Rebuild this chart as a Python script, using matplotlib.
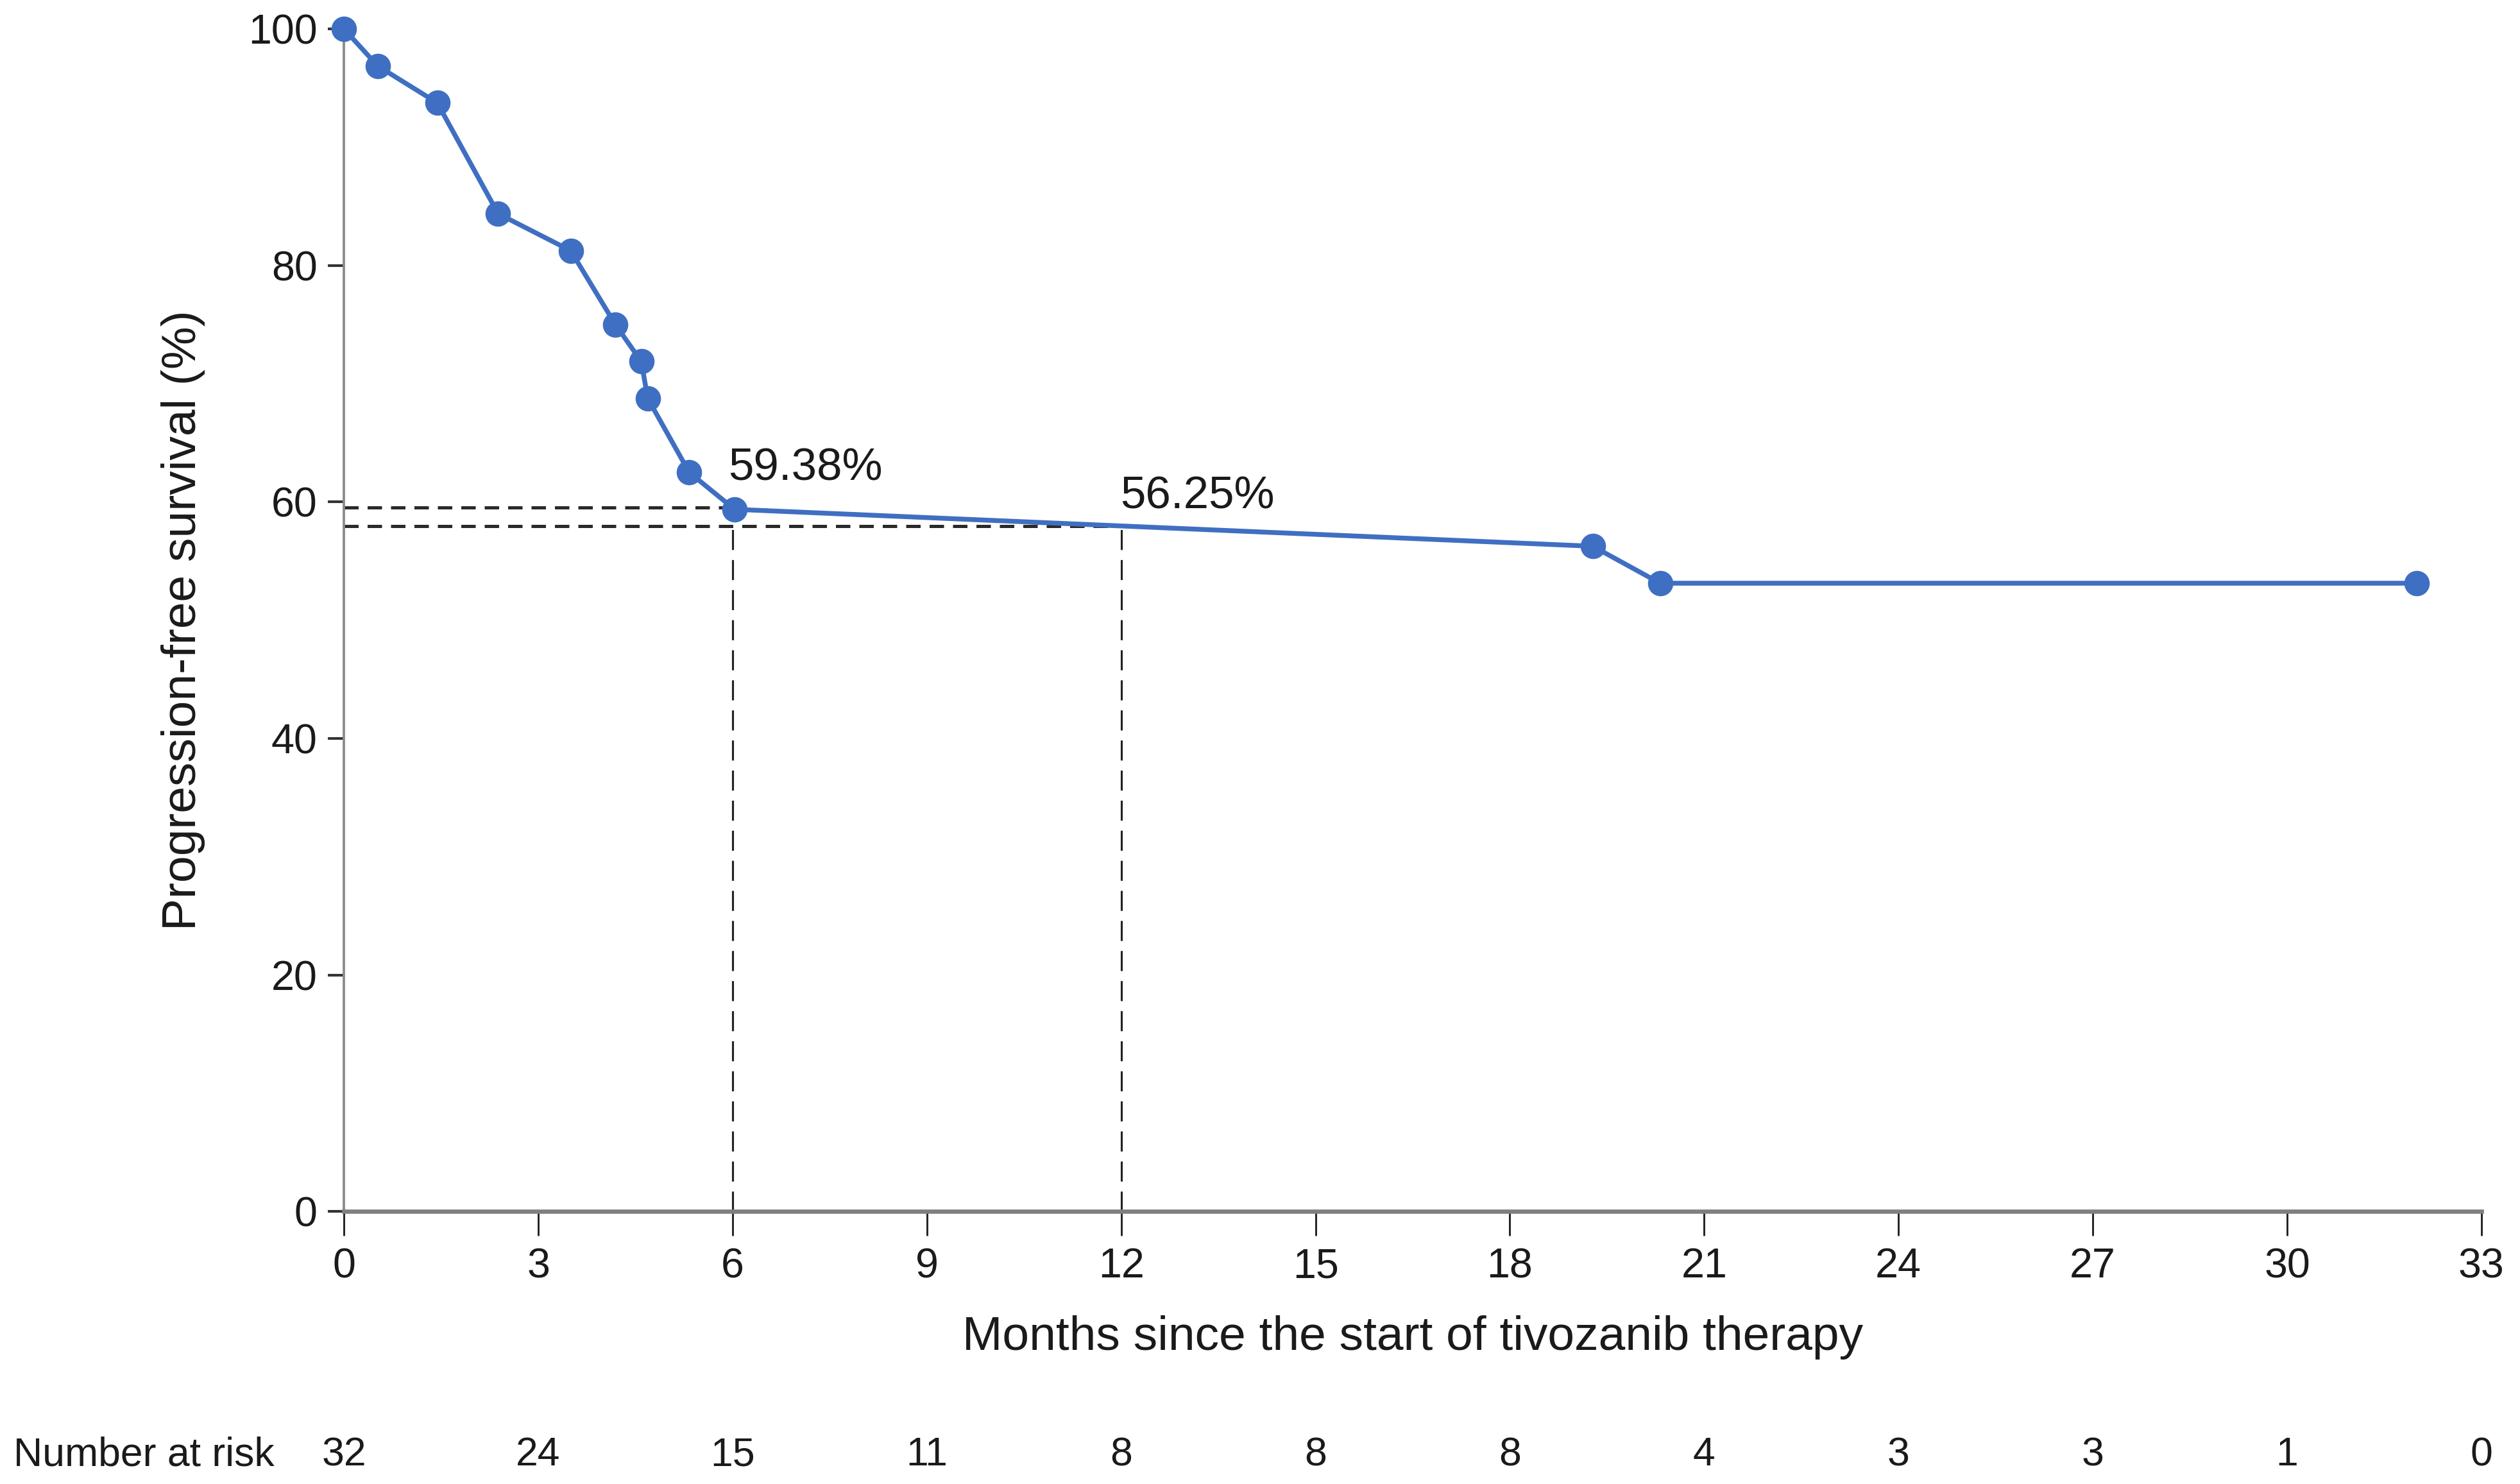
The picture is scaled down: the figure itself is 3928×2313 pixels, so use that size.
import numpy as np
import matplotlib
matplotlib.use("Agg")
import matplotlib.pyplot as plt

plt.rcParams["font.family"] = ["Liberation Sans", "DejaVu Sans"]

# Kaplan-Meier style points (months, % progression-free)
months = [0, 0.52, 1.44, 2.38, 3.50, 4.19, 4.59, 4.69, 5.33, 6.03, 19.28, 20.32, 32.0]
pfs = [100, 96.875, 93.75, 84.375, 81.25, 75.0, 71.875, 68.75, 62.5, 59.375, 56.25, 53.125, 53.125]

# number at risk row
risk_months = [0, 3, 6, 9, 12, 15, 18, 21, 24, 27, 30, 33]
at_risk = [32, 24, 15, 11, 8, 8, 8, 4, 3, 3, 1, 0]

# reference marks
ref_months = [6, 12]
ref_labels = ["59.38%", "56.25%"]

blue = "#3f6fc2"
txt = "#1a1a1a"

fig = plt.figure(figsize=(3928 / 300, 2313 / 300), dpi=300)
ax = fig.add_axes([0.1365, 0.1837, 0.8482, 0.7968])

# dashed guide lines
ref_y = np.interp(ref_months, months, pfs)
for m, yv in zip(ref_months, ref_y):
    ax.plot([0, m], [yv, yv], color="#2a2a2a", lw=1.2,
            linestyle=(0, (4.5, 2.8)), zorder=2)
    ax.plot([m, m], [0, yv], color="#222222", lw=0.75,
            linestyle=(0, (10, 5)), zorder=2)

# survival curve
ax.plot(months, pfs, color=blue, lw=1.8, marker="o", markersize=8.5,
        clip_on=False, zorder=4)

# annotations
ax.text(5.93, 62.8, ref_labels[0], fontsize=17, color=txt, ha="left", va="center")
ax.text(11.99, 60.4, ref_labels[1], fontsize=17, color=txt, ha="left", va="center")

ax.set_xlim(0, 33)
ax.set_ylim(0, 100)
ax.set_xticks(risk_months)
ax.set_yticks(np.arange(0, 101, 20))

for s in ["top", "right"]:
    ax.spines[s].set_visible(False)
ax.spines["left"].set_color("#8a8a8a")
ax.spines["left"].set_linewidth(0.9)
ax.spines["bottom"].set_color("#7f7f7f")
ax.spines["bottom"].set_linewidth(1.6)

ax.tick_params(axis="x", direction="out", length=9, width=0.7, color="#222222",
               labelsize=15.5, labelcolor=txt, pad=4.5)
ax.tick_params(axis="y", direction="out", length=6, width=1.0, color="#333333",
               labelsize=15.5, labelcolor=txt, pad=4)

ax.set_xlabel("Months since the start of tivozanib therapy", fontsize=18,
              color=txt, labelpad=11)
ax.set_ylabel("Progression-free survival (%)", fontsize=18, color=txt, labelpad=16)

# number at risk row
risk_y = -0.206
for m, n in zip(risk_months, at_risk):
    ax.text(m, risk_y, str(n), transform=ax.get_xaxis_transform(),
            fontsize=15, color=txt, ha="center", va="center")
ax.text(-1.08, risk_y, "Number at risk", transform=ax.get_xaxis_transform(),
        fontsize=15, color=txt, ha="right", va="center")

fig.savefig("out.png", dpi=300, facecolor="white")
